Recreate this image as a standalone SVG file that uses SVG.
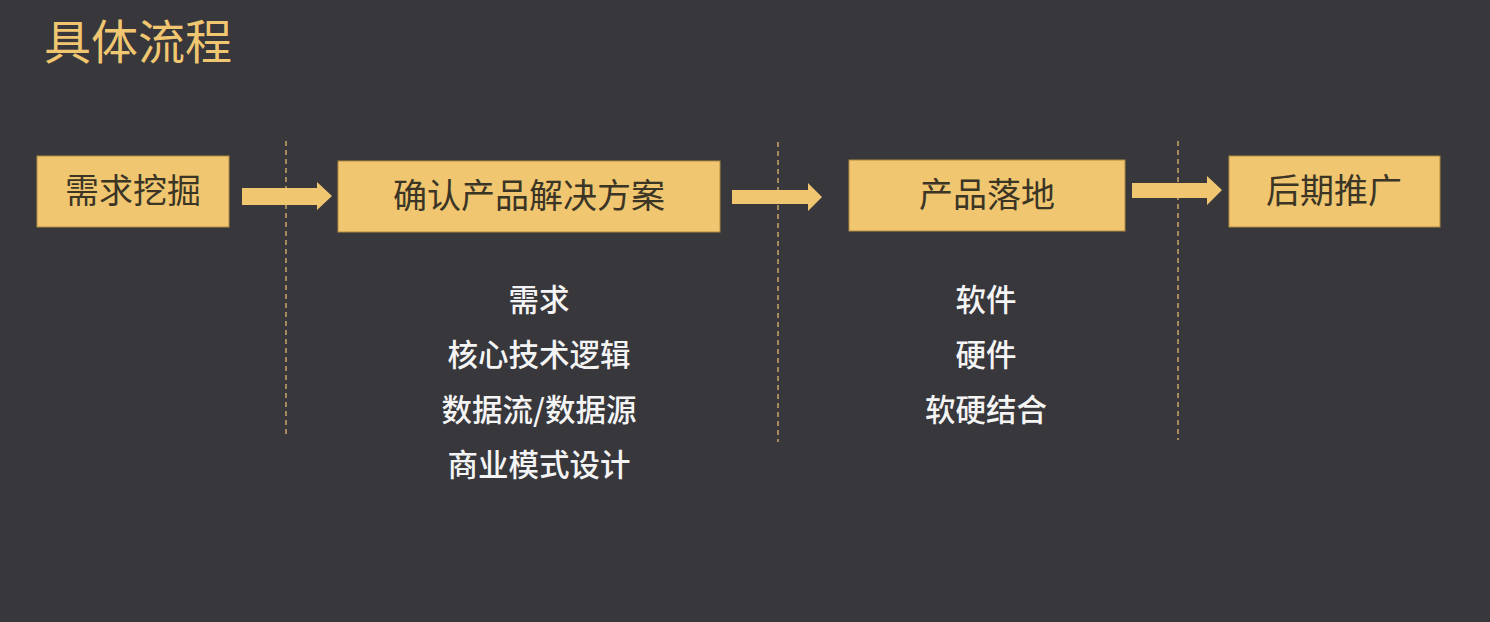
<svg xmlns="http://www.w3.org/2000/svg" width="1490" height="622" viewBox="0 0 1490 622">
<defs>
<style>
.box{fill:#f0c670;stroke:#b08a40;stroke-width:1}
.bt{font-family:"Noto Sans CJK SC","Noto Sans",sans-serif;font-size:34px;fill:#3b3526;text-anchor:middle}
.it{font-family:"Noto Sans CJK SC","Noto Sans",sans-serif;font-size:30.5px;fill:#f4f4f4;text-anchor:middle;font-weight:500}
.title{font-family:"Noto Sans CJK SC","Noto Sans",sans-serif;font-size:47px;fill:#f0c670}
.dash{stroke:#c9a766;stroke-width:1.5;stroke-dasharray:5,4;fill:none}
.arr{fill:#f0c670}
</style>
</defs>
<rect width="1490" height="622" fill="#37373c"/>
<text class="title" x="44" y="59">具体流程</text>
<g id="dividers">
<line class="dash" x1="286" y1="141" x2="286" y2="436"/>
<line class="dash" x1="778" y1="142" x2="778" y2="442"/>
<line class="dash" x1="1178" y1="141" x2="1178" y2="440"/>
</g>
<g id="connectors">
<polygon class="arr" points="242,188 317,188 317,182 332,196 317,210 317,205 242,205"/>
<polygon class="arr" points="732,190 808,190 808,183 822,197 808,211 808,204 732,204"/>
<polygon class="arr" points="1132,183 1207,183 1207,176 1222,190 1207,205 1207,198 1132,198"/>
</g>
<g id="n1">
<rect class="box" x="37" y="156" width="192" height="71"/>
<text class="bt" x="133" y="203">需求挖掘</text>
</g>
<g id="n2">
<rect class="box" x="338" y="161" width="382" height="71"/>
<text class="bt" x="529" y="208">确认产品解决方案</text>
<text class="it" x="539" y="311">需求</text>
<text class="it" x="539" y="366">核心技术逻辑</text>
<text class="it" x="539" y="421">数据流/数据源</text>
<text class="it" x="539" y="476">商业模式设计</text>
</g>
<g id="n3">
<rect class="box" x="849" y="160" width="276" height="71"/>
<text class="bt" x="987" y="207">产品落地</text>
<text class="it" x="986" y="311">软件</text>
<text class="it" x="986" y="366">硬件</text>
<text class="it" x="986" y="421">软硬结合</text>
</g>
<g id="n4">
<rect class="box" x="1229" y="156" width="211" height="71"/>
<text class="bt" x="1334" y="203">后期推广</text>
</g>
</svg>
